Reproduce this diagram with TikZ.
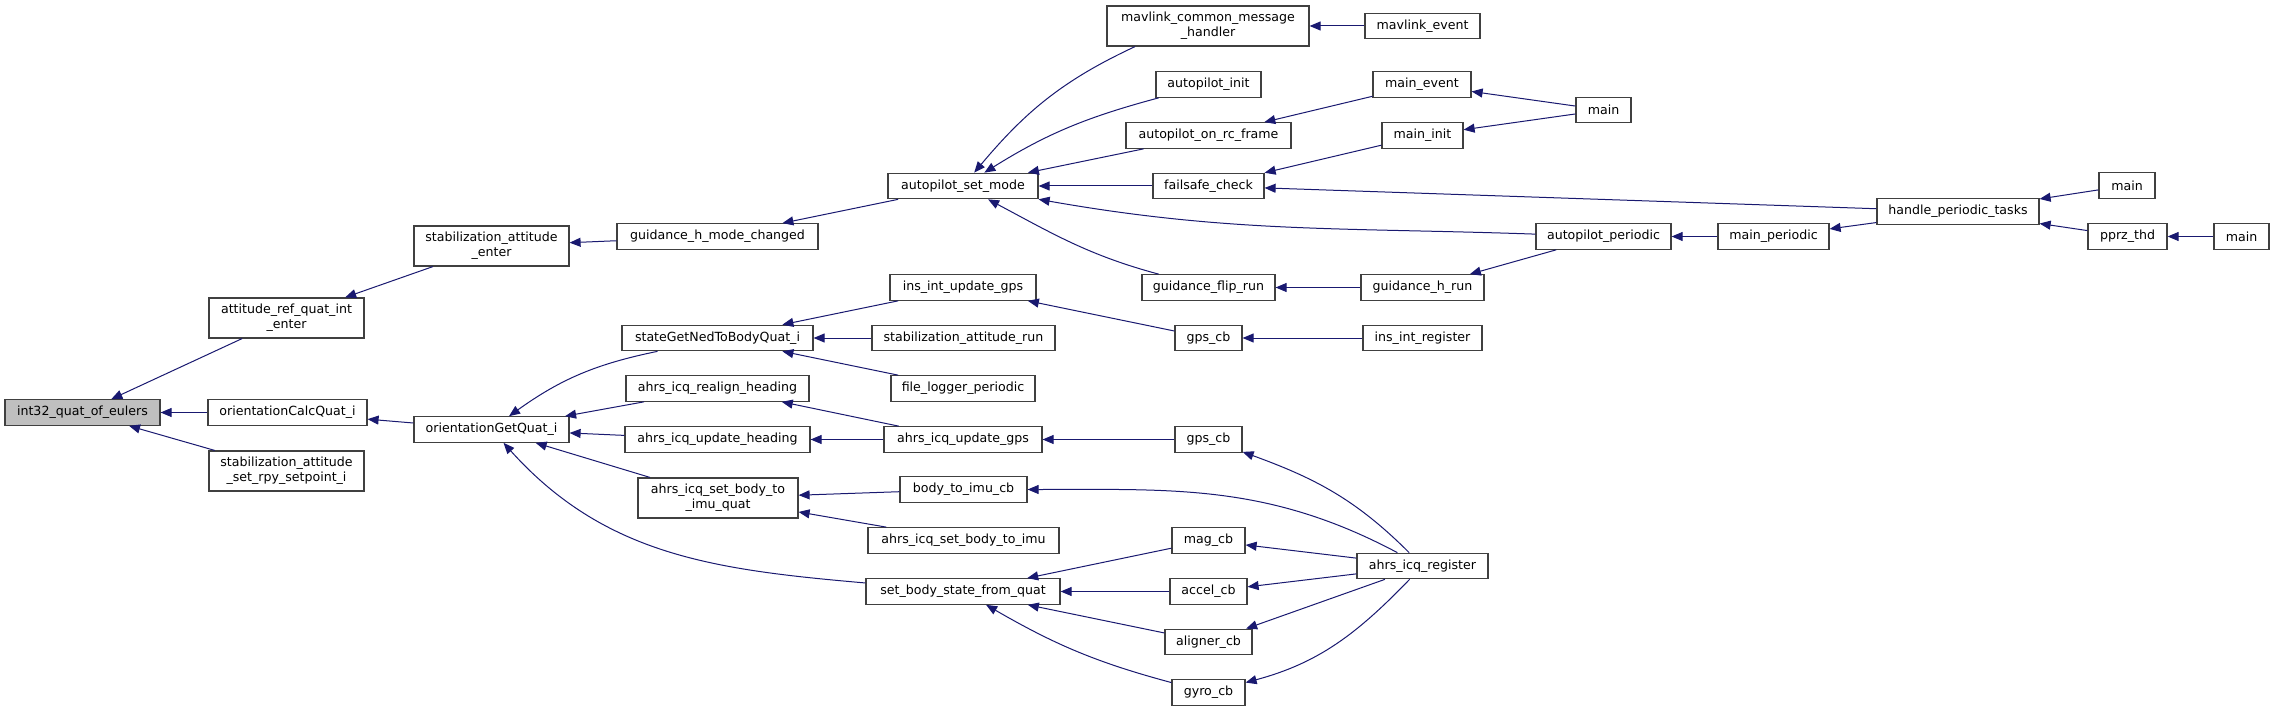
\documentclass[tikz,border=0pt]{standalone}
\usepackage{fontspec}
\usepackage{xcolor}
\usepackage{tikz}
\usetikzlibrary{arrows.meta}
\newfontfamily\graphfont{DejaVu Sans}
\definecolor{edgeblue}{HTML}{191970}
\definecolor{boxline}{HTML}{404040}
\definecolor{focusfill}{HTML}{BFBFBF}

\begin{document}
\begin{tikzpicture}[x=1pt, y=1pt,
  fn/.style={draw=boxline, line width=1.2pt, rectangle, fill=white, inner sep=0pt,
    minimum height=25.5, align=center, font={\graphfont\fontsize{12.6}{15}\selectfont}},
  fn2/.style={fn, minimum height=40},
  call/.style={draw=edgeblue, line width=1pt, arrows={Triangle[length=11pt, width=9pt]-}}]
  \fill [white] (0,0) rectangle (2275,-711);
  \useasboundingbox (0,0) rectangle (2275,-711);

  \node (eul) [fn, fill=focusfill, minimum width=155] at (82.5,-412.5) {int32\_quat\_of\_eulers};

  \node (attref) [fn2, minimum width=155] at (286.5,-318) {attitude\_ref\_quat\_int\\\_enter};
  \node (calcq) [fn, minimum width=159] at (287.5,-412.5) {orientationCalcQuat\_i};
  \node (rpysp) [fn2, minimum width=155] at (286.5,-471) {stabilization\_attitude\\\_set\_rpy\_setpoint\_i};

  \node (stabenter) [fn2, minimum width=155] at (491.5,-246) {stabilization\_attitude\\\_enter};
  \node (getq) [fn, minimum width=155] at (491.5,-429.5) {orientationGetQuat\_i};

  \node (hmode) [fn, minimum width=201] at (717.5,-236.5) {guidance\_h\_mode\_changed};
  \node (nedq) [fn, minimum width=191] at (717.5,-338) {stateGetNedToBodyQuat\_i};
  \node (realign) [fn, minimum width=183] at (717.5,-388.5) {ahrs\_icq\_realign\_heading};
  \node (updhead) [fn, minimum width=185] at (717.5,-439.5) {ahrs\_icq\_update\_heading};
  \node (bodyimuq) [fn2, minimum width=160] at (718,-498) {ahrs\_icq\_set\_body\_to\\\_imu\_quat};

  \node (setmode) [fn, minimum width=150] at (963,-186) {autopilot\_set\_mode};
  \node (insgps) [fn, minimum width=146] at (963,-287.5) {ins\_int\_update\_gps};
  \node (stabrun) [fn, minimum width=183] at (963.5,-338) {stabilization\_attitude\_run};
  \node (flog) [fn, minimum width=144] at (963,-388.5) {file\_logger\_periodic};
  \node (updgps) [fn, minimum width=158] at (963,-439.5) {ahrs\_icq\_update\_gps};
  \node (bimucb) [fn, minimum width=127] at (963.5,-489.5) {body\_to\_imu\_cb};
  \node (bimu) [fn, minimum width=191] at (963.5,-540.5) {ahrs\_icq\_set\_body\_to\_imu};
  \node (bodystate) [fn, minimum width=194] at (963,-591.5) {set\_body\_state\_from\_quat};

  \node (mavhdl) [fn2, minimum width=202] at (1208,-26) {mavlink\_common\_message\\\_handler};
  \node (apinit) [fn, minimum width=105] at (1208.5,-84.5) {autopilot\_init};
  \node (rcframe) [fn, minimum width=165] at (1208.5,-135.5) {autopilot\_on\_rc\_frame};
  \node (failsafe) [fn, minimum width=111] at (1208.5,-186) {failsafe\_check};
  \node (fliprun) [fn, minimum width=133] at (1208.5,-287.5) {guidance\_flip\_run};
  \node (gpscba) [fn, minimum width=67] at (1208.5,-338) {gps\_cb};
  \node (gpscbb) [fn, minimum width=67] at (1208.5,-439.5) {gps\_cb};
  \node (magcb) [fn, minimum width=73] at (1208.5,-540.5) {mag\_cb};
  \node (accelcb) [fn, minimum width=77] at (1208.5,-591.5) {accel\_cb};
  \node (alignercb) [fn, minimum width=87] at (1208.5,-642) {aligner\_cb};
  \node (gyrocb) [fn, minimum width=73] at (1208.5,-692.5) {gyro\_cb};

  \node (mavevent) [fn, minimum width=115] at (1422.5,-26) {mavlink\_event};
  \node (mainevent) [fn, minimum width=98] at (1422,-84.5) {main\_event};
  \node (maininit) [fn, minimum width=81] at (1422.5,-135.5) {main\_init};
  \node (hrun) [fn, minimum width=123] at (1422.5,-287.5) {guidance\_h\_run};
  \node (insreg) [fn, minimum width=119] at (1422.5,-338) {ins\_int\_register};
  \node (icqreg) [fn, minimum width=131] at (1422.5,-566) {ahrs\_icq\_register};

  \node (maina) [fn, minimum width=55] at (1603.5,-110) {main};
  \node (approc) [fn, minimum width=135] at (1603.5,-236.5) {autopilot\_periodic};
  \node (mainper) [fn, minimum width=111] at (1773.5,-236.5) {main\_periodic};
  \node (hpt) [fn, minimum width=162] at (1958,-211.5) {handle\_periodic\_tasks};
  \node (mainb) [fn, minimum width=56] at (2127,-185.5) {main};
  \node (pprz) [fn, minimum width=79] at (2127.5,-236.5) {pprz\_thd};
  \node (mainc) [fn, minimum width=55] at (2241.5,-236.5) {main};

  \draw [call] (eul) -- (attref);
  \draw [call] (eul) -- (calcq);
  \draw [call] (eul) -- (rpysp);
  \draw [call] (attref) -- (stabenter);
  \draw [call] (calcq) -- (getq);
  \draw [call] (stabenter) -- (hmode);
  \draw [call] (hmode) -- (setmode);
  \draw [call] (getq) to[bend left=12] ([xshift=-60]nedq.south);
  \draw [call] (getq) -- (realign);
  \draw [call] (getq) -- (updhead);
  \draw [call] (getq) -- (bodyimuq);
  \draw [call] (getq) to[out=-48, in=175] (bodystate);

  \draw [call] (nedq) -- (insgps);
  \draw [call] (nedq) -- (stabrun);
  \draw [call] (nedq) -- (flog);
  \draw [call] (realign) -- (updgps);
  \draw [call] (updhead) -- (updgps);
  \draw [call] (bodyimuq) -- (bimucb);
  \draw [call] (bodyimuq) -- (bimu);

  \draw [call] (setmode) to[out=50, in=205] ([xshift=-73]mavhdl.south);
  \draw [call] (setmode) to[out=32, in=195] (apinit);
  \draw [call] (setmode) -- (rcframe);
  \draw [call] (setmode) -- (failsafe);
  \draw [call] (setmode) to[out=-10, in=178] (approc);
  \draw [call] (setmode) to[out=-28, in=165] (fliprun);
  \draw [call] (insgps) -- (gpscba);
  \draw [call] (updgps) -- (gpscbb);
  \draw [call] (bimucb) to[out=0, in=152] (icqreg);
  \draw [call] (bodystate) -- (magcb);
  \draw [call] (bodystate) -- (accelcb);
  \draw [call] (bodystate) -- (alignercb);
  \draw [call] (bodystate) to[out=-30, in=165] (gyrocb);

  \draw [call] (mavhdl) -- (mavevent);
  \draw [call] (rcframe) -- (mainevent);
  \draw [call] (failsafe) -- (maininit);
  \draw [call] (failsafe) -- (hpt);
  \draw [call] (fliprun) -- (hrun);
  \draw [call] (gpscba) -- (insreg);
  \draw [call] (gpscbb) to[out=-20, in=135] (icqreg);
  \draw [call] (magcb) -- (icqreg);
  \draw [call] (accelcb) -- (icqreg);
  \draw [call] (alignercb) -- (icqreg);
  \draw [call] (gyrocb) to[out=15, in=226] (icqreg);

  \draw [call] (mainevent) -- (maina);
  \draw [call] (maininit) -- (maina);
  \draw [call] (hrun) -- (approc);
  \draw [call] (approc) -- (mainper);
  \draw [call] (mainper) -- (hpt);
  \draw [call] (hpt) -- (mainb);
  \draw [call] (hpt) -- (pprz);
  \draw [call] (pprz) -- (mainc);
\end{tikzpicture}
\end{document}
